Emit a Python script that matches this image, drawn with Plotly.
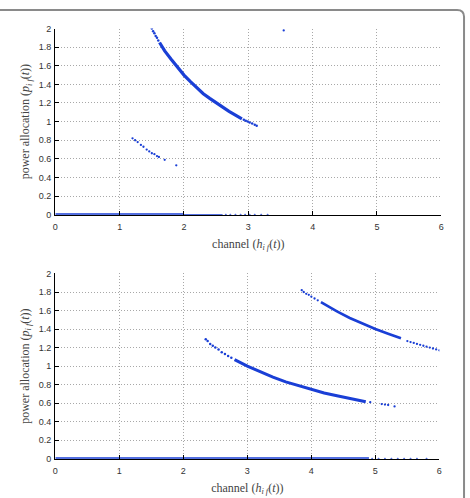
import plotly.graph_objects as go

BLUE = "#1a3fd6"

# ---------- top panel data ----------
top_main_sparse_a_x = [1.50, 1.52, 1.54, 1.56, 1.58, 1.60]
top_main_sparse_a_y = [2.00, 1.97, 1.95, 1.92, 1.90, 1.87]
top_main_dense_x = [1.62, 1.7, 1.8, 1.9, 2.0, 2.1, 2.2, 2.3, 2.4, 2.5, 2.6, 2.7, 2.8, 2.9]
top_main_dense_y = [1.85, 1.76, 1.67, 1.58, 1.50, 1.43, 1.36, 1.30, 1.25, 1.20, 1.15, 1.11, 1.07, 1.03]
top_main_sparse_b_x = [2.93, 2.96, 2.99, 3.02, 3.06, 3.10, 3.13]
top_main_sparse_b_y = [1.02, 1.01, 1.00, 0.99, 0.98, 0.965, 0.955]
top_low_x = [1.20, 1.24, 1.28, 1.33, 1.37, 1.42, 1.46, 1.50, 1.54, 1.58, 1.61, 1.70, 1.88]
top_low_y = [0.82, 0.80, 0.78, 0.75, 0.73, 0.70, 0.68, 0.66, 0.65, 0.63, 0.62, 0.59, 0.53]
top_single_x = [3.55]
top_single_y = [1.98]
top_zero_dense_x = [0.0, 2.0]
top_zero_dense_y = [0.0, 0.0]
top_zero_thin_x = [2.0, 2.6]
top_zero_thin_y = [0.0, 0.0]
top_zero_sparse_x = [2.65, 2.72, 2.8, 2.88, 2.95, 3.02, 3.1, 3.2, 3.3]
top_zero_sparse_y = [0, 0, 0, 0, 0, 0, 0, 0, 0]

# ---------- bottom panel data ----------
bot_a_sparse_x = [2.35, 2.38, 2.42, 2.46, 2.50, 2.55, 2.60, 2.65, 2.70, 2.75]
bot_a_sparse_y = [1.29, 1.27, 1.24, 1.22, 1.20, 1.18, 1.15, 1.13, 1.11, 1.09]
bot_a_dense_x = [2.8, 3.0, 3.2, 3.4, 3.6, 3.8, 4.0, 4.2, 4.4, 4.6, 4.8, 4.85]
bot_a_dense_y = [1.07, 1.00, 0.94, 0.88, 0.83, 0.79, 0.75, 0.71, 0.68, 0.65, 0.625, 0.615]
bot_a_tail_x = [4.92, 5.10, 5.15, 5.20, 5.30]
bot_a_tail_y = [0.61, 0.59, 0.585, 0.58, 0.565]
bot_b_sparse_x = [3.85, 3.88, 3.92, 3.96, 4.00, 4.05, 4.10]
bot_b_sparse_y = [1.82, 1.80, 1.78, 1.77, 1.75, 1.73, 1.71]
bot_b_dense_x = [4.15, 4.4, 4.6, 4.8, 5.0, 5.2, 5.4]
bot_b_dense_y = [1.69, 1.59, 1.52, 1.46, 1.40, 1.35, 1.30]
bot_b_tail_x = [5.5, 5.55, 5.6, 5.65, 5.7, 5.75, 5.8, 5.85, 5.9, 5.95, 6.0]
bot_b_tail_y = [1.27, 1.26, 1.25, 1.24, 1.23, 1.22, 1.21, 1.20, 1.19, 1.18, 1.17]
bot_zero_dense_x = [0.0, 4.9]
bot_zero_dense_y = [0.0, 0.0]
bot_zero_sparse_x = [4.95, 5.05, 5.15, 5.25, 5.35, 5.45, 5.55, 5.65, 5.8]
bot_zero_sparse_y = [0, 0, 0, 0, 0, 0, 0, 0, 0]

x_ticks = [0, 1, 2, 3, 4, 5, 6]
y_ticks = [0, 0.2, 0.4, 0.6, 0.8, 1, 1.2, 1.4, 1.6, 1.8, 2]
y_tick_text = ["0", "0.2", "0.4", "0.6", "0.8", "1", "1.2", "1.4", "1.6", "1.8", "2"]

fig = go.Figure()


def line(x, y, w, xa, ya):
    fig.add_trace(go.Scatter(x=x, y=y, mode="lines", line=dict(color=BLUE, width=w),
                             xaxis=xa, yaxis=ya, showlegend=False, hoverinfo="skip"))


def dots(x, y, s, xa, ya):
    fig.add_trace(go.Scatter(x=x, y=y, mode="markers", marker=dict(color=BLUE, size=s, line=dict(width=0)),
                             xaxis=xa, yaxis=ya, showlegend=False, hoverinfo="skip"))


# top
line(top_zero_dense_x, top_zero_dense_y, 3, "x", "y")
line(top_zero_thin_x, top_zero_thin_y, 1.2, "x", "y")
dots(top_zero_sparse_x, top_zero_sparse_y, 2, "x", "y")
dots(top_main_sparse_a_x, top_main_sparse_a_y, 2.5, "x", "y")
line(top_main_dense_x, top_main_dense_y, 3.2, "x", "y")
dots(top_main_sparse_b_x, top_main_sparse_b_y, 2.5, "x", "y")
dots(top_low_x, top_low_y, 2.3, "x", "y")
dots(top_single_x, top_single_y, 2.3, "x", "y")

# bottom
line(bot_zero_dense_x, bot_zero_dense_y, 3, "x2", "y2")
dots(bot_zero_sparse_x, bot_zero_sparse_y, 2, "x2", "y2")
dots(bot_a_sparse_x, bot_a_sparse_y, 2.5, "x2", "y2")
line(bot_a_dense_x, bot_a_dense_y, 3.0, "x2", "y2")
dots(bot_a_tail_x, bot_a_tail_y, 2.3, "x2", "y2")
dots(bot_b_sparse_x, bot_b_sparse_y, 2.3, "x2", "y2")
line(bot_b_dense_x, bot_b_dense_y, 2.6, "x2", "y2")
dots(bot_b_tail_x, bot_b_tail_y, 2.3, "x2", "y2")

W, H = 470, 498
tickfont = dict(family="Liberation Sans, Arial, sans-serif", size=9, color="#333")
titlefont = dict(family="Liberation Serif, DejaVu Serif, serif", size=12, color="#444")

x_title = "channel (<i>h</i><sub><i>i f</i></sub>(<i>t</i>))"
y_title = "power allocation (<i>p</i><sub><i>i f</i></sub>(<i>t</i>))"

common_x = dict(range=[0, 6], tickvals=x_ticks, ticks="inside", ticklen=4, tickcolor="black",
                showline=True, linecolor="black", linewidth=1.3, showgrid=True, gridcolor="#a8a8a8",
                griddash="1px,2px", gridwidth=1, zeroline=False, tickfont=tickfont,
                ticklabelstandoff=3,
                title=dict(text=x_title, font=titlefont, standoff=8))
common_y = dict(range=[0, 2], tickvals=y_ticks, ticktext=y_tick_text, ticks="inside", ticklen=4,
                tickcolor="black", showline=True, linecolor="black", linewidth=1.3, showgrid=True,
                gridcolor="#a8a8a8", griddash="1px,2px", gridwidth=1, zeroline=False, tickfont=tickfont,
                ticklabelstandoff=1)

top_dom = [1 - 214 / H, 1 - 24 / H]
bot_dom = [1 - 463 / H, 1 - 274 / H]

fig.update_layout(
    width=W, height=H, margin=dict(l=0, r=0, t=0, b=0),
    paper_bgcolor="white", plot_bgcolor="white",
    xaxis=dict(common_x, domain=[53 / W, 444 / W], anchor="y"),
    yaxis=dict(common_y, domain=top_dom, anchor="x"),
    xaxis2=dict(common_x, domain=[53 / W, 442 / W], anchor="y2"),
    yaxis2=dict(common_y, domain=bot_dom, anchor="x2"),
)

for dom in (top_dom, bot_dom):
    fig.add_annotation(text=y_title, xref="paper", yref="paper", x=23 / W, y=(dom[0] + dom[1]) / 2,
                       textangle=-90, showarrow=False, font=titlefont, xanchor="center", yanchor="middle")

# rounded frame around the figure
x0, y0 = -5 / W, 1 - 5 / H
xr = 467 / W
path = (f"M {x0},{y0} L {460 / W},{y0} Q {xr},{y0} {xr},{1 - 12 / H} L {xr},{-10 / H}")
fig.add_shape(type="path", path=path, xref="paper", yref="paper",
              line=dict(color="#8a8a8a", width=2))

fig.write_html("out.html")
